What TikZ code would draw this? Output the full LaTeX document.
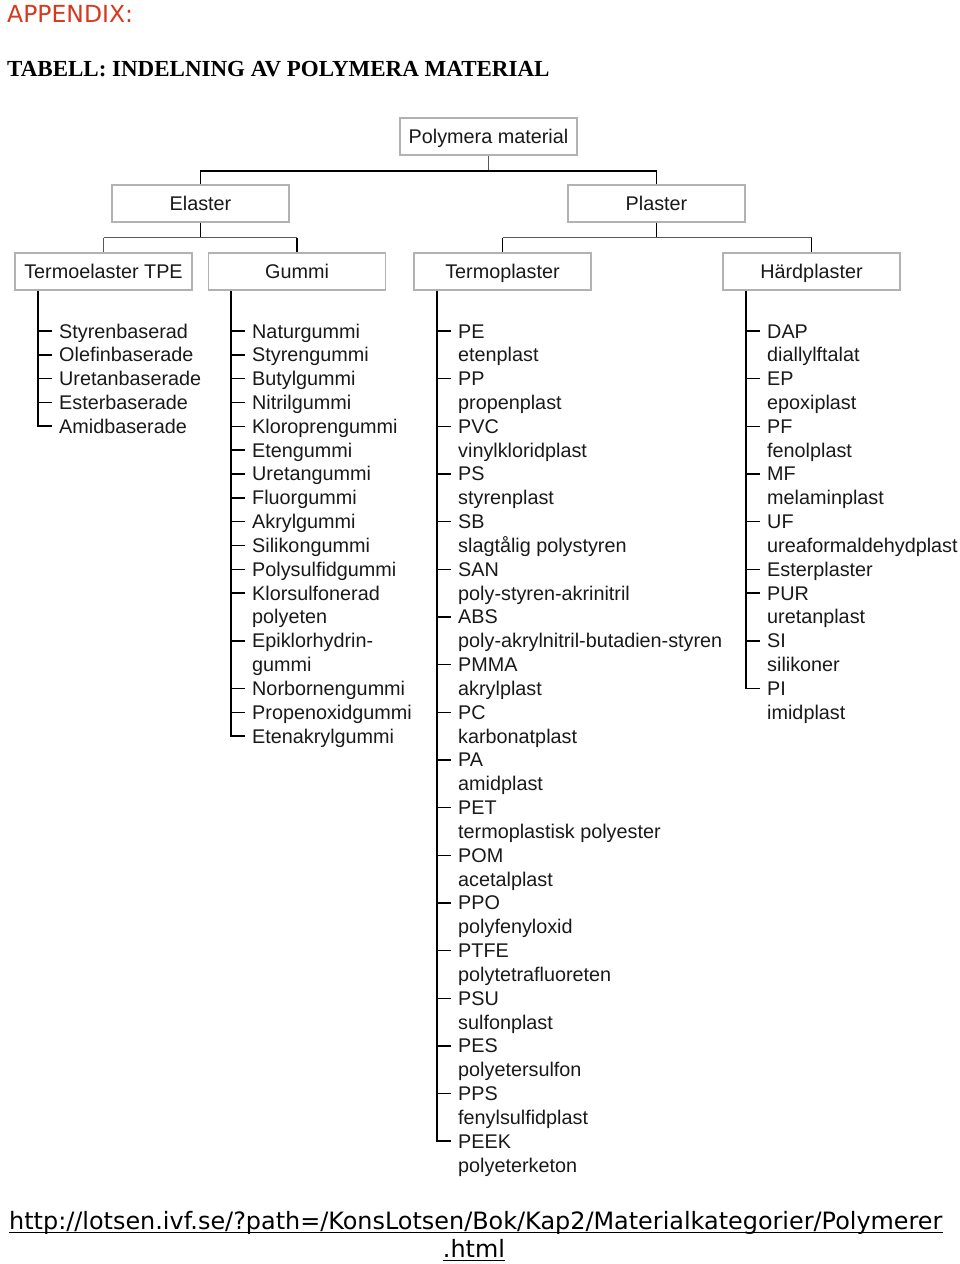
\documentclass[tikz,border=0pt]{standalone}
\usepackage{fontspec}
\setmainfont{Liberation Sans}
\newfontfamily\serifbold{Liberation Serif}
\newfontfamily\verd{DejaVu Sans}
\definecolor{appred}{RGB}{214,58,30}
\begin{document}
\begin{tikzpicture}[x=1pt,y=-1pt,
  box/.style={draw=gray!60, line width=1.4pt, fill=white, minimum width=177pt, minimum height=37pt, inner sep=0pt, text height=14pt, text depth=0pt, font=\fontsize{19.8}{22}\selectfont, text=black!90},
  conn/.style={line width=1.8pt, black},
  thinline/.style={line width=1.1pt, gray!70!black},
  item/.style={anchor=base west, inner sep=0pt, font=\fontsize{19.8}{22}\selectfont, text=black!90},
  tickline/.style={line width=1.5pt, black},
  plain/.style={anchor=base west, inner sep=0pt}]
\useasboundingbox (0,0) rectangle (960,1264);

% headings
\node[plain, text=appred, font=\verd\fontsize{23.5}{28}\selectfont] (app) at (7,22) {APPENDIX:};
\node[plain, font=\serifbold\bfseries\fontsize{23}{28}\selectfont] (title) at (7,76) {TABELL: INDELNING AV POLYMERA MATERIAL};

% boxes
\node[box] (root) at (488.5,136.5) {Polymera material};
\node[box] (elaster) at (200.5,203.5) {Elaster};
\node[box] (plaster) at (656.5,203.5) {Plaster};
\node[box] (tpe) at (103.5,271.5) {Termoelaster TPE};
\node[box] (gummi) at (297,271.5) {Gummi};
\node[box] (termo) at (502.5,271.5) {Termoplaster};
\node[box] (hard) at (811.5,271.5) {Härdplaster};

% tree connectors
\coordinate (j0) at ([yshift=-15pt]root.south);
\draw[thinline] (root.south) -- (j0);
\draw[conn] (elaster.north) |- (j0) -| (plaster.north);
\coordinate (j1) at ([yshift=-15pt]elaster.south);
\coordinate (j2) at ([yshift=-15pt]plaster.south);
\draw[conn] (elaster.south) -- (j1);
\draw[conn] (plaster.south) -- (j2);
\draw[thinline] (tpe.north |- j1) -- (gummi.north |- j1);
\draw[thinline] (termo.north |- j2) -- (hard.north |- j2);
\draw[thinline] (tpe.north |- j1) -- (tpe.north);
\draw[conn] (gummi.north |- j1) -- (gummi.north);
\draw[conn] (termo.north |- j2) -- (termo.north);
\draw[conn] (hard.north |- j2) -- (hard.north);

% Termoelaster TPE list
\foreach \t/\k [count=\i from 0] in {Styrenbaserad/1,Olefinbaserade/1,Uretanbaserade/1,Esterbaserade/1,Amidbaserade/0}{
  \pgfmathsetmacro\by{338+23.83*\i}
  \node[item] (tpe-\i) at (59,\by) {\t};
  \ifnum\k=1 \draw[tickline] ([xshift=-21pt,yshift=7pt]tpe-\i.base west) -- ([xshift=-7pt,yshift=7pt]tpe-\i.base west);\fi
}
\draw[conn] ([xshift=-21pt]tpe-0.base west |- tpe.south) |- ([xshift=-7pt,yshift=7pt]tpe-4.base west);

% Gummi list
\foreach \t/\k [count=\i from 0] in {Naturgummi/1,Styrengummi/1,Butylgummi/1,Nitrilgummi/1,Kloroprengummi/1,Etengummi/1,Uretangummi/1,Fluorgummi/1,Akrylgummi/1,Silikongummi/1,Polysulfidgummi/1,Klorsulfonerad/1,polyeten/0,Epiklorhydrin-/1,gummi/0,Norbornengummi/1,Propenoxidgummi/1,Etenakrylgummi/0}{
  \pgfmathsetmacro\by{338+23.83*\i}
  \node[item] (gum-\i) at (252,\by) {\t};
  \ifnum\k=1 \draw[tickline] ([xshift=-21pt,yshift=7pt]gum-\i.base west) -- ([xshift=-7pt,yshift=7pt]gum-\i.base west);\fi
}
\draw[conn] ([xshift=-21pt]gum-0.base west |- gummi.south) |- ([xshift=-7pt,yshift=7pt]gum-17.base west);

% Termoplaster list
\foreach \t/\k [count=\i from 0] in {PE/1,etenplast/0,PP/1,propenplast/0,PVC/1,vinylkloridplast/0,PS/1,styrenplast/0,SB/1,slagtålig polystyren/0,SAN/1,poly-styren-akrinitril/0,ABS/1,poly-akrylnitril-butadien-styren/0,PMMA/1,akrylplast/0,PC/1,karbonatplast/0,PA/1,amidplast/0,PET/1,termoplastisk polyester/0,POM/1,acetalplast/0,PPO/1,polyfenyloxid/0,PTFE/1,polytetrafluoreten/0,PSU/1,sulfonplast/0,PES/1,polyetersulfon/0,PPS/1,fenylsulfidplast/0,PEEK/0,polyeterketon/0}{
  \pgfmathsetmacro\by{338+23.83*\i}
  \node[item] (ter-\i) at (458,\by) {\t};
  \ifnum\k=1 \draw[tickline] ([xshift=-21pt,yshift=7pt]ter-\i.base west) -- ([xshift=-7pt,yshift=7pt]ter-\i.base west);\fi
}
\draw[conn] ([xshift=-21pt]ter-0.base west |- termo.south) |- ([xshift=-7pt,yshift=7pt]ter-34.base west);

% Härdplaster list
\foreach \t/\k [count=\i from 0] in {DAP/1,diallylftalat/0,EP/1,epoxiplast/0,PF/1,fenolplast/0,MF/1,melaminplast/0,UF/1,ureaformaldehydplast/0,Esterplaster/1,PUR/1,uretanplast/0,SI/1,silikoner/0,PI/0,imidplast/0}{
  \pgfmathsetmacro\by{338+23.83*\i}
  \node[item] (har-\i) at (767,\by) {\t};
  \ifnum\k=1 \draw[tickline] ([xshift=-21pt,yshift=7pt]har-\i.base west) -- ([xshift=-7pt,yshift=7pt]har-\i.base west);\fi
}
\draw[conn] ([xshift=-21pt]har-0.base west |- hard.south) |- ([xshift=-7pt,yshift=7pt]har-15.base west);

% source URL
\node[plain, font=\verd\fontsize{23.9}{28}\selectfont] (url) at (9,1229) {http://lotsen.ivf.se/?path=/KonsLotsen/Bok/Kap2/Materialkategorier/Polymerer};
\node[anchor=base, inner sep=0pt, font=\verd\fontsize{23.9}{28}\selectfont] (html) at (474,1257) {.html};
\draw[line width=1.2pt] ([yshift=-3.5pt]url.base west) -- ([yshift=-3.5pt]url.base east);
\draw[line width=1.2pt] ([yshift=-3.5pt]html.base west) -- ([yshift=-3.5pt]html.base east);
\end{tikzpicture}
\end{document}
